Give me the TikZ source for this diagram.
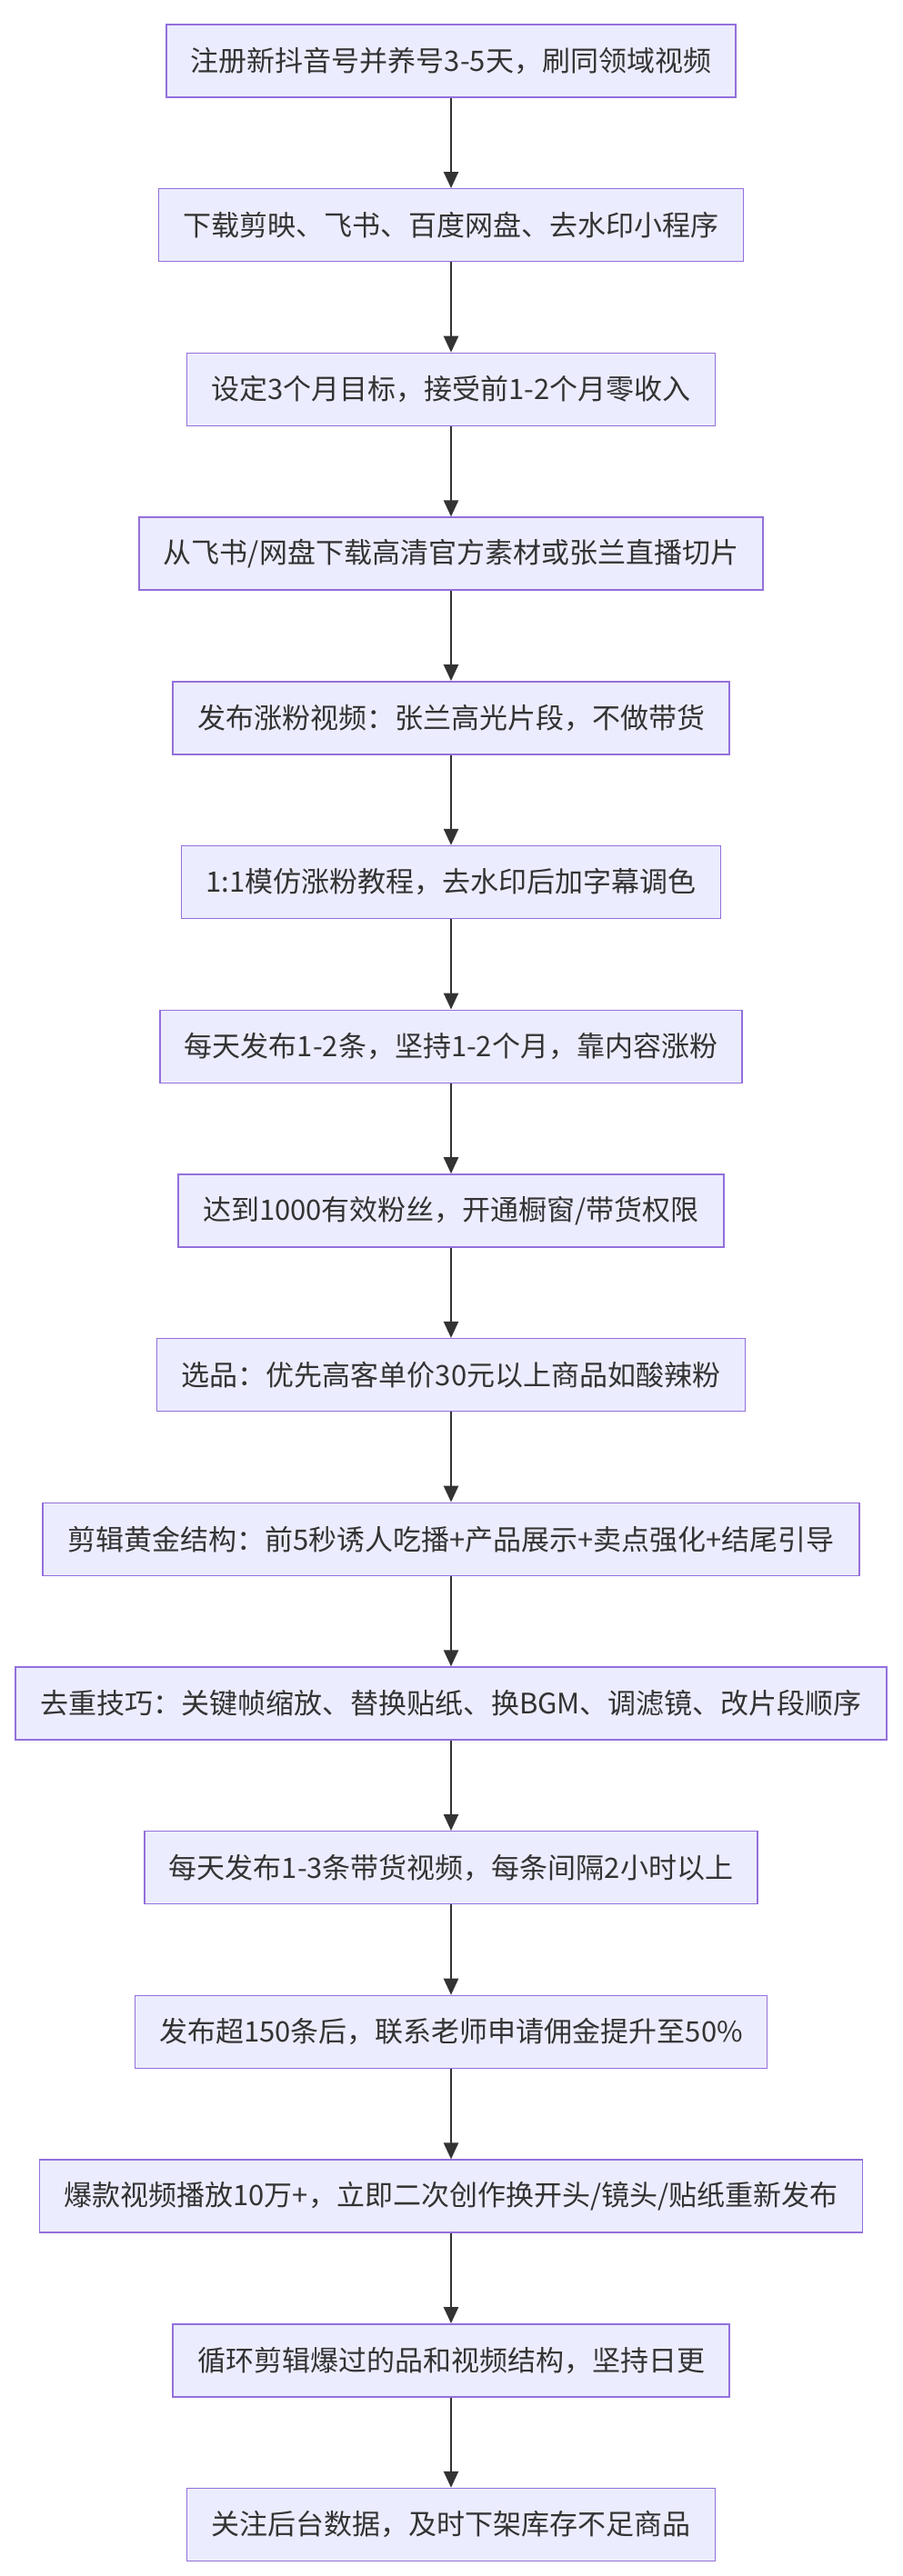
\documentclass[tikz,border=0pt]{standalone}
\usepackage{fontspec}
\newfontfamily\cjk{Noto Sans CJK SC}
\usetikzlibrary{arrows.meta}
\definecolor{boxfill}{HTML}{ECECFF}
\definecolor{boxline}{HTML}{9370DB}
\definecolor{arrowline}{HTML}{333333}
\tikzset{
  stepbox/.style={draw=boxline, fill=boxfill, line width=0.7pt, minimum height=40pt, inner xsep=13.5pt, font=\cjk\fontsize{15.5}{17}\selectfont, text=arrowline},
  flowarrow/.style={draw=arrowline, line width=1.2pt, -{Triangle[length=9pt,width=8pt]}}
}
\begin{document}
\begin{tikzpicture}[x=1pt,y=1pt]
        % Rahmen
        \useasboundingbox (0,0) rectangle (496,-1417);
        % Schritte
        \foreach \txt [count=\i] in {
          {注册新抖音号并养号3-5天，刷同领域视频},
          {下载剪映、飞书、百度网盘、去水印小程序},
          {设定3个月目标，接受前1-2个月零收入},
          {从飞书/网盘下载高清官方素材或张兰直播切片},
          {发布涨粉视频：张兰高光片段，不做带货},
          {1:1模仿涨粉教程，去水印后加字幕调色},
          {每天发布1-2条，坚持1-2个月，靠内容涨粉},
          {达到1000有效粉丝，开通橱窗/带货权限},
          {选品：优先高客单价30元以上商品如酸辣粉},
          {剪辑黄金结构：前5秒诱人吃播+产品展示+卖点强化+结尾引导},
          {去重技巧：关键帧缩放、替换贴纸、换BGM、调滤镜、改片段顺序},
          {每天发布1-3条带货视频，每条间隔2小时以上},
          {发布超150条后，联系老师申请佣金提升至50\%},
          {爆款视频播放10万+，立即二次创作换开头/镜头/贴纸重新发布},
          {循环剪辑爆过的品和视频结构，坚持日更},
          {关注后台数据，及时下架库存不足商品}}
          \node[stepbox] (s\i) at (248,{-33.5-(\i-1)*90.35}) {\txt};
        % Pfeile
        \foreach \i [evaluate=\i as \j using int(\i+1)] in {1,...,15}
          \draw[flowarrow] (s\i) -- (s\j);
\end{tikzpicture}
\end{document}
